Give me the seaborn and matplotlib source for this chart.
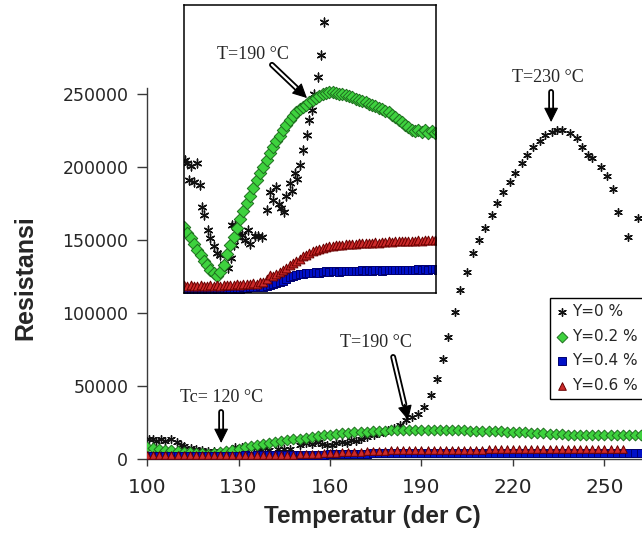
import numpy as np
import matplotlib
matplotlib.use('Agg')
import matplotlib.pyplot as plt
import matplotlib.patheffects as pe
import seaborn as sns

sns.set_style('white')
plt.rcParams.update({
    'font.family': ['DejaVu Sans'],
    'axes.spines.top': False,
    'axes.spines.right': False,
})

# ---- data ----
# Y=0 %: irregular readings
temp_y0 = [100.5, 102, 103, 104.5, 106, 108, 109.7, 111, 112, 114.5, 116, 118, 120, 121.8,
           124, 126.7, 128.5, 129, 130, 131, 132, 133, 135, 137, 138.8, 140, 143, 145, 147,
           150, 152, 154, 156, 157.5, 159, 160.5, 162, 164, 165.5, 167, 168.5, 170, 172,
           174.5, 176, 177.5, 179, 181, 183, 185, 187, 189, 190.8, 193, 195, 197, 198.7,
           201, 202.6, 205, 207, 209, 210.8, 213, 214.8, 216.7, 219, 220.7, 223, 224.6,
           226.6, 228.9, 230.5, 232.8, 234.4, 236, 238.7, 241, 242.6, 244.6, 246, 249,
           250.8, 252.8, 254.4, 257.7, 261]
res_y0 = [14000, 13700, 12200, 13500, 12000, 13700, 11750, 9800, 9000, 7700, 7000, 6200, 5600, 5400,
          4600, 4250, 5200, 8100, 6300, 8100, 7050, 7600, 7200, 6800, 7700, 6400, 7150, 7150, 7100,
          9500, 11100, 10400, 11600, 10000, 9700, 9300, 10800, 11900, 11200, 12800, 12300, 13600, 14900,
          16300, 17600, 18500, 20000, 21500, 23500, 26500, 28500, 31000, 35600, 43800, 54800, 68500, 83500,
          100700, 116000, 128000, 141000, 150000, 158000, 167000, 175000, 183000, 190000, 196000, 203000, 208000,
          214000, 218000, 222000, 224000, 225500, 225000, 223000, 220000, 214000, 208000, 206000, 200000,
          194000, 185000, 169000, 152000, 165000]

# Y=0.2 %, 0.4 %: every 2 degrees from 100 to 262
temp_grid = np.arange(100, 264, 2)
res_y02 = [8000, 7400, 7000, 6400, 5900, 5400, 4900, 4500, 4100, 3800,
           3500, 3900, 4500, 5500, 6300, 7100, 7900, 8700, 9400, 10100,
           10800, 11500, 12200, 12800, 13400, 14000, 14600, 15200, 15700, 16200,
           16700, 17200, 17600, 18000, 18300, 18600, 18800, 19000, 19200, 19400,
           19600, 19800, 19950, 20050, 20150, 20150, 20100, 20000, 19950, 19850,
           19800, 19700, 19550, 19450, 19300, 19200, 19100, 19000, 18850, 18700,
           18600, 18450, 18300, 18100, 17900, 17600, 17400, 17200, 16950, 16700,
           16600, 16750, 16550, 16700, 16450, 16600, 16400, 16550, 16400, 16500,
           16350, 16450]
res_y04 = [2300, 2200, 2300, 2250, 2300, 2200, 2300, 2350, 2250, 2300,
           2400, 2300, 2350, 2400, 2300, 2400, 2450, 2400, 2500, 2450,
           2500, 2550, 2500, 2600, 2550, 2650, 2700, 2800, 2900, 3000,
           3100, 3250, 3400, 3550, 3650, 3700, 3750, 3800, 3850, 3850,
           3900, 3850, 3900, 3950, 3900, 3950, 3950, 3900, 3950, 4000,
           3950, 4000, 3950, 4000, 4050, 4000, 4050, 4000, 4050, 4050,
           4000, 4050, 4100, 4050, 4100, 4050, 4100, 4100, 4050, 4100,
           4100, 4150, 4100, 4150, 4100, 4150, 4150, 4100, 4150, 4150,
           4150, 4200]
# Y=0.6 %: every 2 degrees from 100 to 256
temp_y06 = np.arange(100, 258, 2)
res_y06 = [2700, 2600, 2700, 2650, 2600, 2700, 2650, 2600, 2700, 2650,
           2700, 2650, 2700, 2750, 2700, 2750, 2800, 2750, 2800, 2850,
           2800, 2900, 2850, 2950, 3000, 3300, 3600, 3500, 3700, 3900,
           4100, 4300, 4500, 4700, 4900, 5100, 5300, 5450, 5600, 5750,
           5850, 5950, 6050, 6150, 6200, 6250, 6300, 6350, 6350, 6400,
           6400, 6450, 6450, 6500, 6500, 6500, 6550, 6550, 6600, 6550,
           6600, 6600, 6650, 6600, 6650, 6650, 6700, 6650, 6700, 6700,
           6700, 6750, 6700, 6750, 6750, 6800, 6750, 6800, 6800]

series = [
    ('Y=0 %', temp_y0, res_y0, dict(marker=(6, 2, 0), color='#111111', linewidth=1.0)),
    ('Y=0.2 %', temp_grid, res_y02, dict(marker='D', color='#3ED23E', edgecolor='#1F6E1F', linewidth=0.7)),
    ('Y=0.4 %', temp_grid, res_y04, dict(marker='s', color='#0010C8', edgecolor='#000070', linewidth=0.7)),
    ('Y=0.6 %', temp_y06, res_y06, dict(marker='^', color='#CC2A2A', edgecolor='#6A0000', linewidth=0.7)),
]


def double_arrow(ax, start, tip, frac):
    # hollow double-line shaft with a solid head, like the Excel block arrow
    hx = tip[0] + (start[0] - tip[0]) * frac
    hy = tip[1] + (start[1] - tip[1]) * frac
    shaft = ax.annotate('', xy=(hx, hy), xytext=start, annotation_clip=False,
                        arrowprops=dict(arrowstyle='-', color='white', lw=1.6,
                                        shrinkA=0, shrinkB=0))
    shaft.arrow_patch.set_path_effects([pe.Stroke(linewidth=4.2, foreground='black'), pe.Normal()])
    ax.annotate('', xy=tip, xytext=(hx, hy), annotation_clip=False,
                arrowprops=dict(arrowstyle='-|>,head_length=0.9,head_width=0.45',
                                color='black', lw=0.8, shrinkA=0, shrinkB=0))


fig = plt.figure(figsize=(6.42, 5.48), dpi=100)
ax = fig.add_axes([0.2290, 0.1624, 0.7710, 0.6770])

for label, tx, ty, kw in series:
    sns.scatterplot(x=tx, y=ty, s=30, label=label, ax=ax, zorder=3, **kw)

ax.set_xlim(100, 262.3)
ax.set_ylim(0, 254100)
ax.set_xticks([100, 130, 160, 190, 220, 250])
ax.set_yticks([0, 50000, 100000, 150000, 200000, 250000])
for sp in ('left', 'bottom'):
    ax.spines[sp].set_color('#3a3a3a')
    ax.spines[sp].set_linewidth(1.0)
ax.tick_params(axis='y', direction='out', length=7, width=1, color='#3a3a3a',
               pad=6.5, labelsize=12.5, labelcolor='#262626', left=True)
ax.tick_params(axis='x', direction='out', length=5, width=1, color='#3a3a3a',
               pad=9, labelsize=14.5, labelcolor='#262626', bottom=True)

ax.set_xlabel('Temperatur (der C)', fontsize=17.5, fontweight='bold',
              family='Liberation Sans')
ax.set_ylabel('Resistansi', fontsize=18, fontweight='bold', family='Liberation Sans')
ax.xaxis.set_label_coords(0.4556, -0.124)
ax.yaxis.set_label_coords(-0.222, 0.49)

leg = ax.legend(loc='upper left', bbox_to_anchor=(550 / 642, 250 / 548),
                bbox_transform=fig.transFigure, borderaxespad=0, fontsize=11,
                frameon=True, fancybox=False, framealpha=1, edgecolor='black',
                handlelength=0.8, handletextpad=0.25, labelspacing=0.62,
                borderpad=0.4, markerscale=1.0)
leg.get_frame().set_linewidth(1.0)
for t in leg.get_texts():
    t.set_color('#262626')

serif = dict(family='Liberation Serif', fontsize=13, ha='center', va='center')
ax.text(124.3, 41800, 'Tc= 120 °C', **serif)
double_arrow(ax, (124.3, 32200), (124.3, 11000), 0.4)
ax.text(175.1, 80100, 'T=190 °C', **serif)
double_arrow(ax, (180.7, 69900), (185.6, 26700), 0.25)
ax.text(231.5, 261600, 'T=230 °C', clip_on=False, **serif)
double_arrow(ax, (232.5, 251400), (232.5, 230800), 0.4)

# ---- inset: zoom on the low-resistance region ----
axin = fig.add_axes([184 / 642, 255 / 548, 252 / 642, 288 / 548])
for label, tx, ty, kw in series:
    sns.scatterplot(x=tx, y=ty, s=40, ax=axin, legend=False, **kw)
axin.set_xlim(100, 252.7)
axin.set_ylim(2000, 28000)
axin.set_xticks([])
axin.set_yticks([])
axin.set_xlabel('')
axin.set_ylabel('')
for sp in axin.spines.values():
    sp.set_visible(True)
    sp.set_color('black')
    sp.set_linewidth(1.1)
axin.text(141.8, 23500, 'T=190 °C', **serif)
double_arrow(axin, (153.3, 22600), (174.5, 19600), 0.3)

fig.savefig('out.png', dpi=100)
